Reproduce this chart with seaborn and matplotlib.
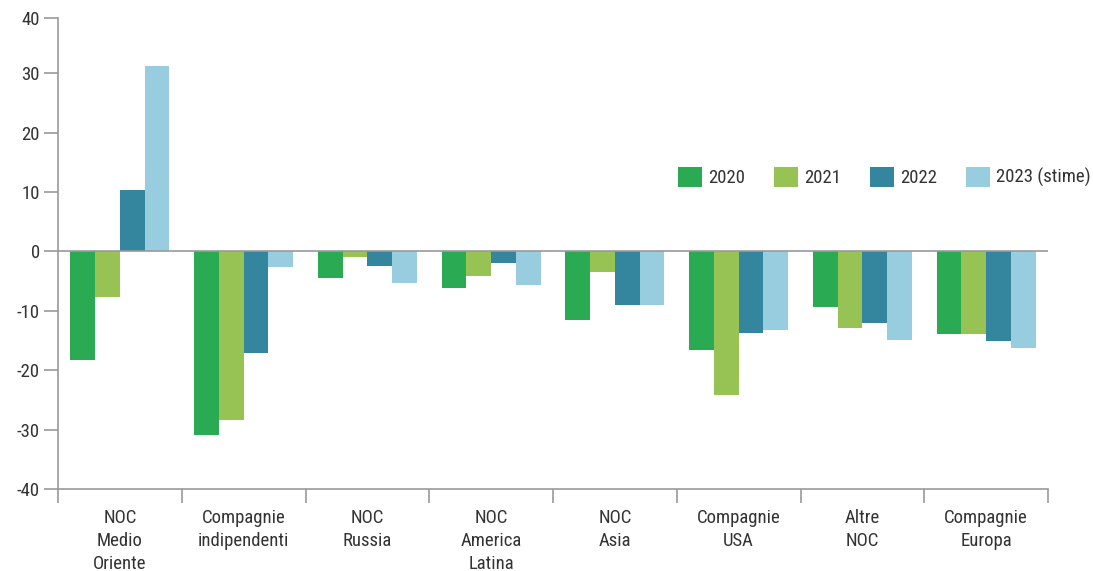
import matplotlib
matplotlib.use("Agg")
import matplotlib.pyplot as plt
import seaborn as sns
import pandas as pd
import numpy as np
from matplotlib import font_manager

categories = ["NOC\nMedio\nOriente", "Compagnie\nindipendenti", "NOC\nRussia",
              "NOC\nAmerica\nLatina", "NOC\nAsia", "Compagnie\nUSA",
              "Altre\nNOC", "Compagnie\nEuropa"]
series_names = ["2020", "2021", "2022", "2023 (stime)"]
v2020 = [-18.2, -30.9, -4.4, -6.2, -11.5, -16.6, -9.3, -13.9]
v2021 = [-7.7, -28.3, -1.0, -4.2, -3.4, -24.2, -12.9, -13.9]
v2022 = [10.3, -17.1, -2.5, -2.0, -9.0, -13.7, -12.1, -15.1]
v2023 = [31.2, -2.6, -5.3, -5.6, -9.0, -13.2, -14.9, -16.2]
yticks = [-40, -30, -20, -10, 0, 10, 20, 30, 40]
colors = ["#2aaa52", "#97c355", "#33869d", "#97cddf"]

sns.set_theme(style="white")
names = {f.name for f in font_manager.fontManager.ttflist}
condensed = "Roboto Condensed" in names
fam = ["Roboto Condensed", "Roboto", "DejaVu Sans"] if condensed else ["Roboto", "DejaVu Sans"]
plt.rcParams["font.family"] = fam

rows = []
for name, vals in zip(series_names, [v2020, v2021, v2022, v2023]):
    for c, v in zip(categories, vals):
        rows.append({"cat": c, "serie": name, "val": v})
df = pd.DataFrame(rows)

fig = plt.figure(figsize=(10.93, 5.71), dpi=100)
ax = fig.add_axes([58/1093, 1-489/571, (1048-58)/1093, (489-18)/571])

sns.barplot(data=df, x="cat", y="val", hue="serie", order=categories,
            hue_order=series_names, palette=colors, saturation=1, width=0.8,
            linewidth=0, ax=ax, errorbar=None)

grey = "#9a9a9a"
txt = "#333333"
fs = 13.5 if condensed else 12.3
ytop = 39.3
ax.set_ylim(-40, ytop)
ax.set_xlim(-0.5, len(categories) - 0.5)
tick_pos = [t if t < 40 else ytop for t in yticks]
ax.set_yticks(tick_pos)
ax.set_yticklabels([str(t) for t in yticks], fontsize=fs, color=txt)
ax.tick_params(axis="y", which="major", length=10, width=1.2, color=grey,
               left=True, pad=3, direction="out")

ax.set_xticks(np.arange(-0.5, len(categories), 1.0))
ax.set_xticklabels([])
ax.set_xticks(np.arange(len(categories)), minor=True)
ax.set_xticklabels(categories, minor=True, fontsize=fs, color=txt,
                   linespacing=1.36)
ax.tick_params(axis="x", which="major", length=10, width=1.2, color=grey,
               bottom=True, direction="out")
ax.tick_params(axis="x", which="minor", length=0, pad=14.5)

for s in ["top", "right"]:
    ax.spines[s].set_visible(False)
for s in ["left", "bottom"]:
    ax.spines[s].set_color(grey)
    ax.spines[s].set_linewidth(1.2)
ax.axhline(0, color=grey, lw=1.2, zorder=3)
ax.set_xlabel("")
ax.set_ylabel("")

handles, labels = ax.get_legend_handles_labels()
ax.legend(handles, labels, ncol=4, frameon=False, loc="center right",
          bbox_to_anchor=(1091/1093, 1-177/571), bbox_transform=fig.transFigure,
          fontsize=fs, handlelength=1.25, handleheight=1.25,
          handletextpad=0.35, columnspacing=1.55, labelcolor=txt,
          borderpad=0, borderaxespad=0)

fig.savefig("out.png", dpi=100)
